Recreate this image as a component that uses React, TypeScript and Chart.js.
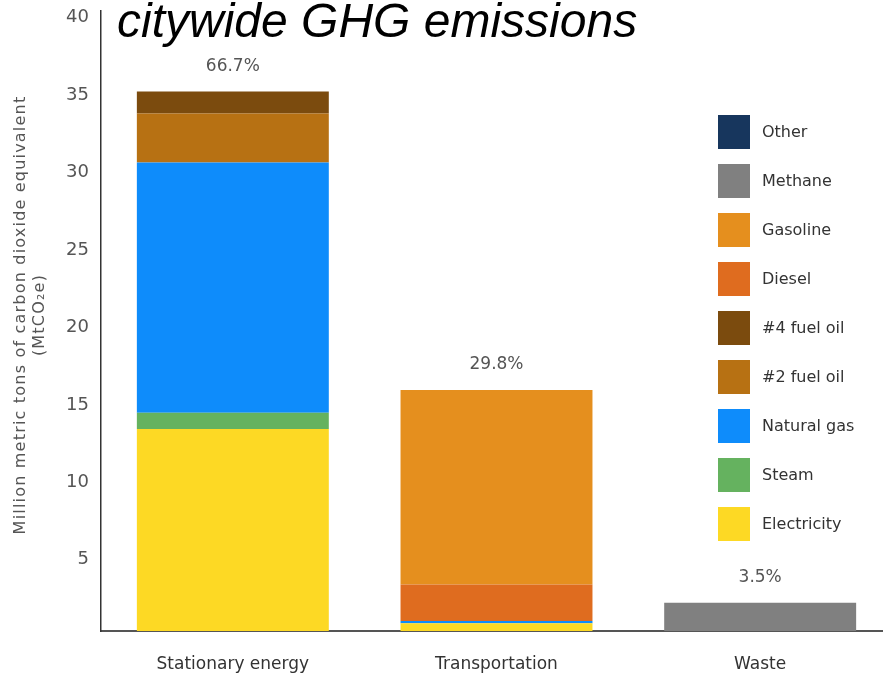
import React, { useEffect, useRef } from "react";
import { Chart, registerables } from "chart.js";

Chart.register(...registerables);

const categories = ["Stationary energy", "Transportation", "Waste"];
const percentLabels = ["66.7%", "29.8%", "3.5%"];
const yTicks = [5, 10, 15, 20, 25, 30, 35, 40];
const yTitleLines = ["Million metric tons of carbon dioxide equivalent", "(MtCO\u2082e)"];

const electricity = [13.45, 0.9, 0];
const steam = [1.05, 0, 0];
const naturalGas = [16.16, 0.15, 0];
const fuelOil2 = [3.16, 0, 0];
const fuelOil4 = [1.42, 0, 0];
const diesel = [0, 2.35, 0];
const gasoline = [0, 12.57, 0];
const methane = [0, 0, 2.23];
const other = [0, 0, 0];

const seriesNames = ["Electricity", "Steam", "Natural gas", "#2 fuel oil", "#4 fuel oil", "Diesel", "Gasoline", "Methane", "Other"];
const seriesValues = [electricity, steam, naturalGas, fuelOil2, fuelOil4, diesel, gasoline, methane, other];
const seriesColors = ["#fdd924", "#65b25f", "#0e8cfb", "#b77113", "#7b4b0e", "#df6c1f", "#e58f1e", "#808080", "#17365d"];

const FONT = "'DejaVu Sans', sans-serif";
const SHIFT = 12; // canvas is drawn 12px above the page top

const overlayPlugin = {
  id: "overlay",
  afterDraw(chart: any) {
    const ctx = chart.ctx;
    ctx.save();
    // Title
    ctx.font = "italic 48px 'Liberation Sans', Arial, sans-serif";
    ctx.fillStyle = "#000";
    ctx.textAlign = "left";
    ctx.textBaseline = "alphabetic";
    ctx.fillText("citywide GHG emissions", 117, 37 + SHIFT);

    // Y axis title (rotated)
    ctx.save();
    ctx.font = `16px ${FONT}`;
    ctx.fillStyle = "#555";
    ctx.textAlign = "center";
    ctx.textBaseline = "middle";
    (ctx as any).letterSpacing = "1.2px";
    const cy = 315 + SHIFT;
    const xs = [21, 40];
    yTitleLines.forEach((line, i) => {
      ctx.save();
      ctx.translate(xs[i], cy);
      ctx.rotate(-Math.PI / 2);
      ctx.fillText(line, 0, 0);
      ctx.restore();
    });
    (ctx as any).letterSpacing = "0px";
    ctx.restore();

    // Percent labels above stacks
    const yScale = chart.scales.y;
    const meta0 = chart.getDatasetMeta(0);
    ctx.font = `17px ${FONT}`;
    ctx.fillStyle = "#555";
    ctx.textAlign = "center";
    ctx.textBaseline = "middle";
    categories.forEach((_, i) => {
      let total = 0;
      seriesValues.forEach((s) => (total += s[i]));
      const x = meta0.data[i].x;
      const y = yScale.getPixelForValue(total);
      ctx.fillText(percentLabels[i], x, y - 25);
    });

    // Legend (reverse order)
    const ds = chart.data.datasets;
    ctx.font = `16px ${FONT}`;
    ctx.textAlign = "left";
    ctx.textBaseline = "middle";
    for (let k = 0; k < ds.length; k++) {
      const d = ds[ds.length - 1 - k];
      const top = 115 + SHIFT + k * 49;
      ctx.fillStyle = d.backgroundColor;
      ctx.fillRect(718, top, 32, 34);
      ctx.fillStyle = "#333";
      ctx.fillText(d.label, 762, top + 18);
    }
    ctx.restore();
  },
};

export default function App() {
  const ref = useRef<HTMLCanvasElement>(null);
  useEffect(() => {
    const chart = new Chart(ref.current!, {
      type: "bar",
      data: {
        labels: categories,
        datasets: seriesNames.map((name, i) => ({
          label: name,
          data: seriesValues[i],
          backgroundColor: seriesColors[i],
          borderWidth: 0,
          barPercentage: 0.728,
          categoryPercentage: 1,
        })),
      },
      options: {
        animation: false,
        responsive: false,
        layout: { padding: 0 },
        plugins: { legend: { display: false }, tooltip: { enabled: false }, title: { display: false } },
        scales: {
          x: {
            stacked: true,
            grid: { display: false, drawTicks: false },
            border: { display: true, color: "#555", width: 2 },
            ticks: { color: "#333", font: { family: FONT, size: 17 }, padding: 23 },
            afterFit(scale: any) {
              scale.height = 46;
            },
          },
          y: {
            stacked: true,
            min: 0.4,
            max: 40.45,
            grid: { display: false, drawTicks: false },
            border: { display: true, color: "#333", width: 1.5 },
            afterBuildTicks(scale: any) {
              scale.ticks = yTicks.map((v) => ({ value: v }));
            },
            ticks: { color: "#555", font: { family: FONT, size: 18 }, padding: 12 },
            afterFit(scale: any) {
              scale.width = 101;
            },
          },
        },
      },
      plugins: [overlayPlugin],
    });
    return () => chart.destroy();
  }, []);
  return (
    <div style={{ position: "fixed", left: 0, top: 0, width: 883, height: 677, overflow: "hidden", background: "#fff" }}>
      <canvas
        ref={ref}
        width={892}
        height={677 + SHIFT}
        style={{ position: "absolute", left: 0, top: -SHIFT, width: 892, height: 677 + SHIFT, display: "block" }}
      />
    </div>
  );
}
